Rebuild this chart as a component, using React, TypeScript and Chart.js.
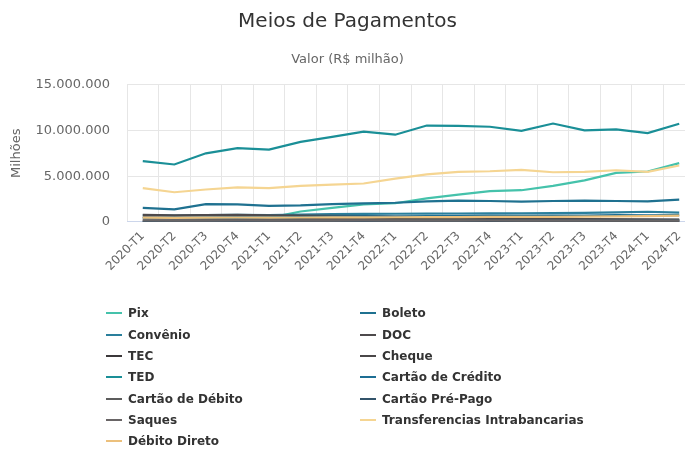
import React, { useEffect, useRef } from 'react';
import { Chart, registerables } from 'chart.js';
Chart.register(...registerables);

const categories = [
  '2020-T1', '2020-T2', '2020-T3', '2020-T4',
  '2021-T1', '2021-T2', '2021-T3', '2021-T4',
  '2022-T1', '2022-T2', '2022-T3', '2022-T4',
  '2023-T1', '2023-T2', '2023-T3', '2023-T4',
  '2024-T1', '2024-T2',
];

const pix = [null, null, null, 50000, 450000, 1150000, 1550000, 1920000, 2050000, 2580000, 2990000, 3360000, 3470000, 3950000, 4540000, 5360000, 5510000, 6430000];
const boleto = [1550000, 1370000, 1960000, 1920000, 1770000, 1810000, 1960000, 2030000, 2100000, 2250000, 2330000, 2290000, 2220000, 2290000, 2330000, 2290000, 2250000, 2440000];
const convenio = [750000, 700000, 740000, 780000, 760000, 820000, 860000, 890000, 900000, 920000, 930000, 940000, 950000, 960000, 990000, 1050000, 1120000, 1020000];
const doc = [780000, 720000, 740000, 770000, 720000, 700000, 680000, 650000, 600000, 560000, 520000, 470000, 420000, 380000, 330000, 270000, 180000, 80000];
const tec = [8000, 7000, 7500, 8000, 7000, 7000, 7500, 8000, 7000, 7000, 7500, 8000, 7000, 7000, 7000, 7500, 6500, 6500];
const cheque = [520000, 430000, 460000, 470000, 440000, 430000, 420000, 410000, 390000, 380000, 370000, 350000, 330000, 320000, 310000, 300000, 280000, 270000];
const ted = [6650000, 6280000, 7500000, 8060000, 7900000, 8750000, 9300000, 9870000, 9530000, 10530000, 10500000, 10400000, 9950000, 10750000, 10000000, 10120000, 9700000, 10720000];
const cartaoCredito = [450000, 400000, 470000, 510000, 500000, 540000, 580000, 620000, 600000, 640000, 660000, 690000, 660000, 690000, 710000, 750000, 720000, 760000];
const cartaoDebito = [180000, 170000, 200000, 210000, 200000, 210000, 215000, 225000, 220000, 225000, 230000, 240000, 230000, 235000, 240000, 250000, 240000, 245000];
const cartaoPrePago = [30000, 35000, 45000, 55000, 60000, 75000, 85000, 100000, 105000, 115000, 125000, 140000, 140000, 150000, 160000, 175000, 175000, 185000];
const saques = [170000, 150000, 160000, 165000, 150000, 155000, 160000, 165000, 155000, 160000, 160000, 165000, 150000, 150000, 150000, 155000, 145000, 145000];
const transferencias = [3700000, 3250000, 3550000, 3770000, 3700000, 3950000, 4070000, 4200000, 4730000, 5200000, 5470000, 5540000, 5690000, 5430000, 5470000, 5650000, 5470000, 6170000];
const debitoDireto = [480000, 460000, 470000, 490000, 480000, 490000, 500000, 510000, 520000, 530000, 540000, 550000, 560000, 570000, 590000, 610000, 640000, 700000];

const seriesNames = [
  'Pix', 'Boleto', 'Convênio', 'DOC', 'TEC', 'Cheque', 'TED',
  'Cartão de Crédito', 'Cartão de Débito', 'Cartão Pré-Pago', 'Saques',
  'Transferencias Intrabancarias', 'Débito Direto',
];
const seriesValues = [
  pix, boleto, convenio, doc, tec, cheque, ted,
  cartaoCredito, cartaoDebito, cartaoPrePago, saques, transferencias, debitoDireto,
];
const seriesColors = [
  '#45c2ab', '#1f7190', '#2a7f9c', '#4e4a4c', '#3b383a', '#4a4748', '#1a8f97',
  '#1d6e94', '#5c5c5c', '#33536a', '#696566', '#f5d592', '#ecc07c',
];

const yTicks = [0, 5000000, 10000000, 15000000];

const fmt = (v: number) => String(v).replace(/\B(?=(\d{3})+(?!\d))/g, '.');

export default function App() {
  const ref = useRef<HTMLCanvasElement>(null);
  useEffect(() => {
    Chart.defaults.font.family = 'DejaVu Sans';
    const chart = new Chart(ref.current as HTMLCanvasElement, {
      type: 'line',
      data: {
        labels: categories,
        datasets: seriesNames.map((name, i) => ({
          label: name,
          data: seriesValues[i] as any,
          borderColor: seriesColors[i],
          backgroundColor: seriesColors[i],
          borderWidth: 2.2,
          pointRadius: 0,
          tension: 0,
          fill: false,
          order: -i,
        })),
      },
      options: {
        animation: false,
        responsive: false,
        layout: { padding: { left: 0, right: 5, top: 0, bottom: 158 } },
        plugins: {
          legend: { display: false },
          tooltip: { enabled: false },
          title: {
            display: true,
            text: 'Meios de Pagamentos',
            color: '#333333',
            font: { size: 20, weight: 'normal' },
            padding: { top: 10, bottom: 0 },
          },
          subtitle: {
            display: true,
            text: 'Valor (R$ milhão)',
            color: '#666666',
            font: { size: 13, weight: 'normal' },
            padding: { top: 18, bottom: 17 },
          },
        },
        scales: {
          x: {
            type: 'category',
            offset: true,
            grid: { offset: true, color: '#e6e6e6', drawTicks: false },
            border: { color: '#ccd6eb' },
            ticks: { maxRotation: 45, minRotation: 45, padding: 7, color: '#666666', font: { size: 12 } },
            afterFit: (s: any) => { s.height = 70; },
          },
          y: {
            min: 0,
            max: 15000000,
            afterBuildTicks: (s: any) => { s.ticks = yTicks.map((v) => ({ value: v })); },
            ticks: { padding: 17, color: '#666666', font: { size: 13 }, callback: (v: any) => fmt(Number(v)) },
            grid: { color: '#e6e6e6', drawTicks: false },
            border: { display: false },
            title: { display: true, text: 'Milhões', color: '#666666', font: { size: 13 }, padding: { top: 9, bottom: 0 } },
            afterFit: (s: any) => { s.width = 127; },
          },
        },
      },
    });
    return () => chart.destroy();
  }, []);

  return (
    <div style={{ position: 'fixed', left: 0, top: 0, width: 685, height: 450, overflow: 'hidden', background: '#ffffff' }}>
      <canvas ref={ref} width={700} height={450} style={{ position: 'absolute', left: 0, top: 0, width: 700, height: 450 }} />
      {seriesNames.map((name, i) => {
        const row = Math.floor(i / 2);
        const col = i % 2;
        const cy = 313.3 + row * 21.33;
        const sx = col === 0 ? 106 : 360;
        const tx = col === 0 ? 128 : 382;
        return (
          <React.Fragment key={name}>
            <div style={{ position: 'absolute', left: sx, top: cy - 1, width: 16, height: 2, background: seriesColors[i] }} />
            <div style={{ position: 'absolute', left: tx, top: cy - 9, height: 18, lineHeight: '18px', fontFamily: 'DejaVu Sans', fontWeight: 'bold', fontSize: 12, color: '#333333', whiteSpace: 'nowrap' }}>{name}</div>
          </React.Fragment>
        );
      })}
    </div>
  );
}
